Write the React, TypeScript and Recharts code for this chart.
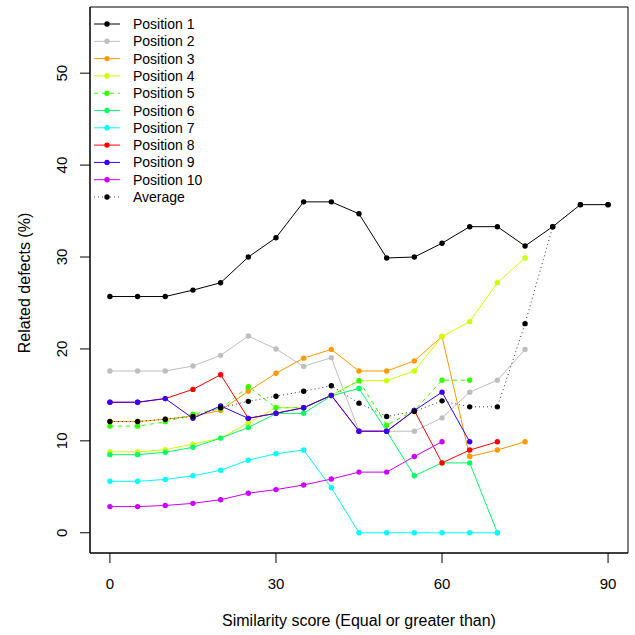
import React from "react";
import {
  LineChart,
  Line,
  XAxis,
  YAxis,
  Label,
  ReferenceArea,
} from "recharts";

const scores = [0, 5, 10, 15, 20, 25, 30, 35, 40, 45, 50, 55, 60, 65, 70, 75, 80, 85, 90];

const position1 = [25.7, 25.7, 25.7, 26.4, 27.2, 30.0, 32.1, 36.0, 36.0, 34.7, 29.9, 30.0, 31.5, 33.3, 33.3, 31.2, 33.3, 35.7, 35.7];
const position2 = [17.6, 17.6, 17.6, 18.15, 19.3, 21.4, 20.0, 18.1, 19.05, 11.05, 11.05, 11.05, 12.5, 15.3, 16.6, 19.95, null, null, null];
const position3 = [12.1, 12.1, 12.35, 12.7, 13.3, 15.4, 17.35, 19.0, 19.95, 17.6, 17.6, 18.7, 21.35, 8.3, 9.0, 9.9, null, null, null];
const position4 = [8.8, 8.8, 9.05, 9.65, 10.3, 11.95, 13.6, 13.6, 14.95, 16.55, 16.55, 17.6, 21.35, 22.97, 27.2, 29.9, null, null, null];
const position5 = [11.6, 11.6, 12.07, 12.9, 13.5, 15.9, 13.6, 13.6, 14.95, 16.55, 11.7, 13.3, 16.6, 16.6, null, null, null, null, null];
const position6 = [8.5, 8.5, 8.75, 9.3, 10.3, 11.45, 12.97, 13.0, 14.9, 15.7, 11.05, 6.2, 7.6, 7.6, 0, null, null, null, null];
const position7 = [5.6, 5.6, 5.8, 6.2, 6.8, 7.9, 8.6, 9.0, 4.9, 0, 0, 0, 0, 0, 0, null, null, null, null];
const position8 = [14.2, 14.2, 14.6, 15.6, 17.2, 12.45, 13.0, 13.6, 14.95, 11.05, 11.05, 13.3, 7.6, 9.0, 9.9, null, null, null, null];
const position9 = [14.2, 14.2, 14.6, 12.45, 13.8, 12.45, 13.0, 13.6, 14.95, 11.05, 11.05, 13.3, 15.3, 9.9, null, null, null, null, null];
const position10 = [2.85, 2.85, 2.97, 3.2, 3.6, 4.3, 4.7, 5.2, 5.85, 6.6, 6.6, 8.3, 9.9, null, null, null, null, null, null];
const average = [12.1, 12.1, 12.35, 12.65, 13.6, 14.3, 14.85, 15.4, 16.0, 14.1, 12.65, 13.2, 14.35, 13.7, 13.7, 22.75, 33.3, 35.7, 35.7];

const seriesNames = ["Position 1", "Position 2", "Position 3", "Position 4", "Position 5", "Position 6", "Position 7", "Position 8", "Position 9", "Position 10", "Average"];
const seriesValues = [position1, position2, position3, position4, position5, position6, position7, position8, position9, position10, average];
const seriesColors = ["#000000", "#BEBEBE", "#FF9900", "#CCFF00", "#33FF00", "#00FF66", "#00FFFF", "#FF0000", "#3300FF", "#CC00FF", "#000000"];
const seriesDash = ["", "", "", "", "4 4", "", "", "", "", "", "1 3"];

const xTicks = [0, 30, 60, 90];
const yTicks = [0, 10, 20, 30, 40, 50];

const FONT = "'Liberation Sans', Arial, sans-serif";

const rows = scores.map((s, i) => {
  const row: Record<string, number | null> = { score: s };
  seriesNames.forEach((name, k) => {
    row[name] = seriesValues[k][i];
  });
  return row;
});

// legend drawn over the plot's top-left corner, like R's legend("topleft")
function LegendBox() {
  return (
    <svg width={200} height={200} style={{ position: "absolute", left: 90, top: 7 }}>
      {seriesNames.map((name, i) => {
        const y = 17 + i * 17.3;
        return (
          <g key={name}>
            <line
              x1={4}
              x2={30}
              y1={y}
              y2={y}
              stroke={i === 10 ? "#555" : seriesColors[i]}
              strokeWidth={1}
              strokeDasharray={seriesDash[i] || undefined}
            />
            <circle cx={17} cy={y} r={2.7} fill={seriesColors[i]} />
            <text x={43} y={y} dy="0.36em" fontSize={14} fontFamily={FONT} fill="#000">
              {name}
            </text>
          </g>
        );
      })}
    </svg>
  );
}

export default function App() {
  return (
    <div style={{ position: "absolute", left: 0, top: 0, width: 635, height: 635, background: "#fff" }}>
      <LineChart width={635} height={635} data={rows} margin={{ top: 7, right: 7, bottom: 0, left: 0 }}>
        <XAxis
          dataKey="score"
          type="number"
          domain={[-3.6, 93.6]}
          ticks={xTicks}
          allowDataOverflow
          height={82}
          tickSize={10}
          stroke="#000"
          tick={(p: any) => (
            <text x={p.x} y={p.y + 19} dy="0.36em" textAnchor="middle" fontSize={15} fontFamily={FONT} fill="#000">
              {p.payload.value}
            </text>
          )}
        >
          <Label
            content={() => (
              <text x={359} y={620} dy="0.36em" textAnchor="middle" fontSize={16} fontFamily={FONT} fill="#000">
                Similarity score (Equal or greater than)
              </text>
            )}
          />
        </XAxis>
        <YAxis
          type="number"
          domain={[-2.2, 57.2]}
          ticks={yTicks}
          allowDataOverflow
          width={90}
          tickSize={10}
          stroke="#000"
          tick={(p: any) => (
            <text
              x={62}
              y={p.y}
              dy="0.36em"
              textAnchor="middle"
              fontSize={15}
              fontFamily={FONT}
              fill="#000"
              transform={`rotate(-90, 62, ${p.y})`}
            >
              {p.payload.value}
            </text>
          )}
        >
          <Label
            content={() => (
              <text
                x={24}
                y={283}
                dy="0.36em"
                textAnchor="middle"
                fontSize={16}
                fontFamily={FONT}
                fill="#000"
                transform="rotate(-90, 24, 283)"
              >
                Related defects (%)
              </text>
            )}
          />
        </YAxis>
        <ReferenceArea x1={-3.6} x2={93.6} y1={-2.2} y2={57.2} fill="none" stroke="#000" strokeWidth={1} ifOverflow="visible" />
        {seriesNames.map((name, i) => (
          <Line
            key={name}
            dataKey={name}
            stroke={i === 10 ? "#333" : seriesColors[i]}
            strokeWidth={1}
            strokeDasharray={seriesDash[i] || undefined}
            dot={{ r: 2.7, fill: seriesColors[i], stroke: "none" }}
            activeDot={false}
            isAnimationActive={false}
            connectNulls={false}
          />
        ))}
      </LineChart>
      <LegendBox />
    </div>
  );
}
